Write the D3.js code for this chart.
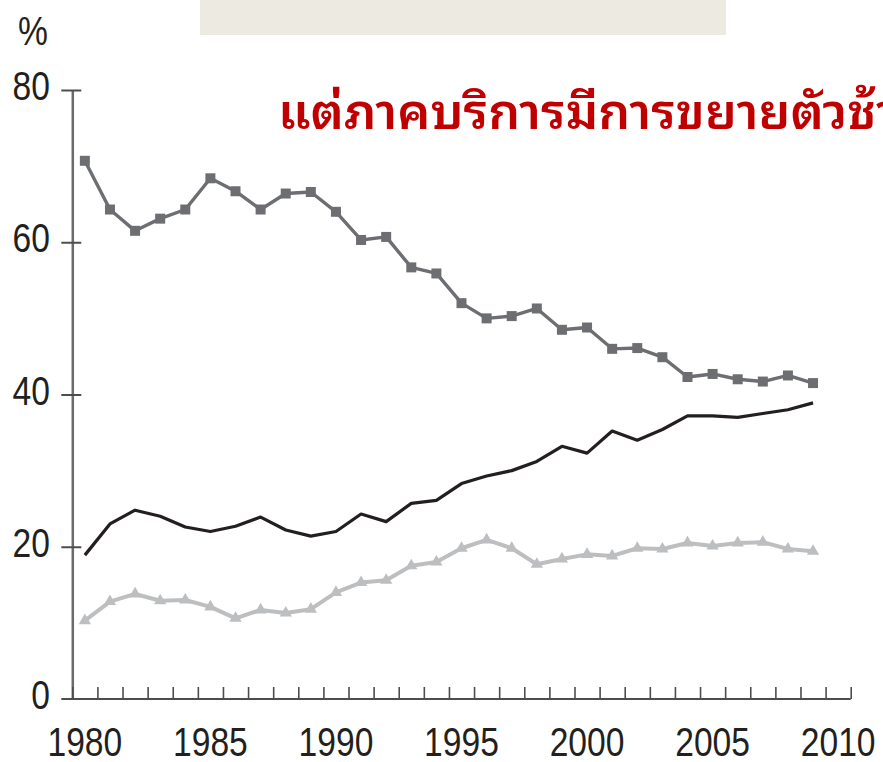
<!DOCTYPE html>
<html lang="th">
<head>
  <meta charset="utf-8">
  <title>สัดส่วนการจ้างงาน</title>
  <script src="https://d3js.org/d3.v7.min.js"></script>
  <style>
    body { margin: 0; background: #fff; }
    .num { font-family: "Liberation Sans", Arial, sans-serif; font-size: 41px; fill: #231f20; }
  </style>
</head>
<body>
  <div id="chart"></div>

  <script>
    "use strict"

    // ปี และสัดส่วน (%)
    var years = [1980, 1981, 1982, 1983, 1984, 1985, 1986, 1987, 1988, 1989,
                 1990, 1991, 1992, 1993, 1994, 1995, 1996, 1997, 1998, 1999,
                 2000, 2001, 2002, 2003, 2004, 2005, 2006, 2007, 2008, 2009];
    var kaset = [70.7, 64.3, 61.5, 63.1, 64.3, 68.4, 66.7, 64.3, 66.4, 66.6,
                 64.0, 60.3, 60.7, 56.7, 55.9, 52.0, 50.0, 50.3, 51.3, 48.5,
                 48.8, 46.0, 46.1, 44.9, 42.3, 42.7, 42.0, 41.7, 42.5, 41.5];
    var borikan = [18.9, 23.0, 24.8, 24.0, 22.6, 22.0, 22.7, 23.9, 22.2, 21.4,
                   22.0, 24.3, 23.3, 25.7, 26.1, 28.3, 29.3, 30.0, 31.2, 33.2,
                   32.3, 35.2, 34.0, 35.4, 37.2, 37.2, 37.0, 37.5, 38.0, 38.9];
    var utsahakam = [10.3, 12.8, 13.8, 12.9, 13.0, 12.1, 10.6, 11.7, 11.3, 11.8,
                     14.0, 15.3, 15.6, 17.5, 18.0, 19.8, 20.9, 19.8, 17.7, 18.4,
                     19.0, 18.8, 19.8, 19.7, 20.5, 20.1, 20.5, 20.6, 19.7, 19.4];
    var yTicks = [0, 20, 40, 60, 80];
    var xLabels = [1980, 1985, 1990, 1995, 2000, 2005, 2010];
    var title = "แต่ภาคบริการมีการขยายตัวช้า";

    var larguraSVG = 883, alturaSVG = 762;
    var estreito = 0.82; // fonte estreita (narrow) simulada

    var svg = d3.select('#chart')
      .append('svg')
        .attr('width', larguraSVG)
        .attr('height', alturaSVG);

    // กล่องหัวเรื่องสีครีม
    svg.append('rect')
      .attr('x', 200).attr('y', 0)
      .attr('width', 526).attr('height', 35)
      .attr('fill', '#edebe1');

    /*
     * scales
     */
    var x = d3.scaleLinear()
              .domain([1979.5, 2010.5])
              .range([72.3, 850.7]);

    var y = d3.scaleLinear()
              .domain([0, 80])
              .range([699, 90]);

    /*
     * axes
     */
    var gy = svg.append('g')
      .attr('transform', 'translate(' + x(1979.5) + ',0)')
      .call(d3.axisLeft(y).tickValues(yTicks.slice(1)).tickSizeOuter(0).tickSizeInner(11).tickFormat(''));
    gy.select('.domain').attr('stroke', '#6b6b6b').attr('stroke-width', 2.5);
    gy.selectAll('.tick line').attr('x1', 9).attr('stroke', '#4d4d4d').attr('stroke-width', 2);

    svg.append('g').selectAll('text')
      .data(yTicks)
      .enter()
        .append('text')
          .attr('class', 'num')
          .attr('transform', d => 'translate(50,' + (y(d) + 10) + ') scale(' + estreito + ',1)')
          .attr('text-anchor', 'end')
          .text(d => d);

    svg.append('text')
      .attr('class', 'num')
      .attr('transform', 'translate(33,45) scale(' + estreito + ',1)')
      .attr('text-anchor', 'middle')
      .text('%');

    var gx = svg.append('g')
      .attr('transform', 'translate(0,' + y(0) + ')')
      .call(d3.axisBottom(x).tickValues(d3.range(1979.5, 2011, 1)).tickSizeOuter(0).tickSizeInner(-12).tickFormat(''));
    gx.select('.domain').attr('d', 'M' + (x(1979.5) - 11) + ',0H' + x(2010.5))
      .attr('stroke', '#4d4d4d').attr('stroke-width', 2);
    gx.selectAll('.tick line').attr('stroke', '#4d4d4d').attr('stroke-width', 1.6);

    svg.append('g').selectAll('text')
      .data(xLabels)
      .enter()
        .append('text')
          .attr('class', 'num')
          .attr('transform', d => 'translate(' + x(d) + ',756) scale(' + estreito + ',1)')
          .attr('text-anchor', 'middle')
          .text(d => d);

    /*
     * lines and markers
     */
    function desenhaSerie(valores, cor, largura) {
      var linha = d3.line()
        .x((d, i) => x(years[i]))
        .y(d => y(d));
      svg.append('path')
        .datum(valores)
        .attr('d', linha)
        .attr('fill', 'none')
        .attr('stroke', cor)
        .attr('stroke-width', largura)
        .attr('stroke-linejoin', 'round');
    }

    function desenhaMarcas(valores, simbolo, tamanho, cor) {
      svg.append('g').selectAll('path')
        .data(valores)
        .enter()
          .append('path')
            .attr('transform', (d, i) => 'translate(' + x(years[i]) + ',' + y(d) + ')')
            .attr('d', d3.symbol().type(simbolo).size(tamanho))
            .attr('fill', cor);
    }

    desenhaSerie(utsahakam, '#bcbec0', 4);
    desenhaMarcas(utsahakam, d3.symbolTriangle, 65, '#bcbec0');

    desenhaSerie(borikan, '#231f20', 3.2);

    desenhaSerie(kaset, '#6d6e71', 3.4);
    desenhaMarcas(kaset, d3.symbolSquare, 100, '#6d6e71');

    // ข้อความสีแดง (ล้นขอบขวา)
    svg.append('text')
      .attr('x', 278).attr('y', 129)
      .attr('font-family', '"Noto Sans Thai Looped", "Noto Sans Thai", "Noto Sans", "DejaVu Sans", sans-serif')
      .attr('font-size', 48)
      .attr('font-weight', 600)
      .attr('fill', '#c00000')
      .attr('textLength', 620)
      .attr('lengthAdjust', 'spacingAndGlyphs')
      .text(title);
  </script>
</body>
</html>
